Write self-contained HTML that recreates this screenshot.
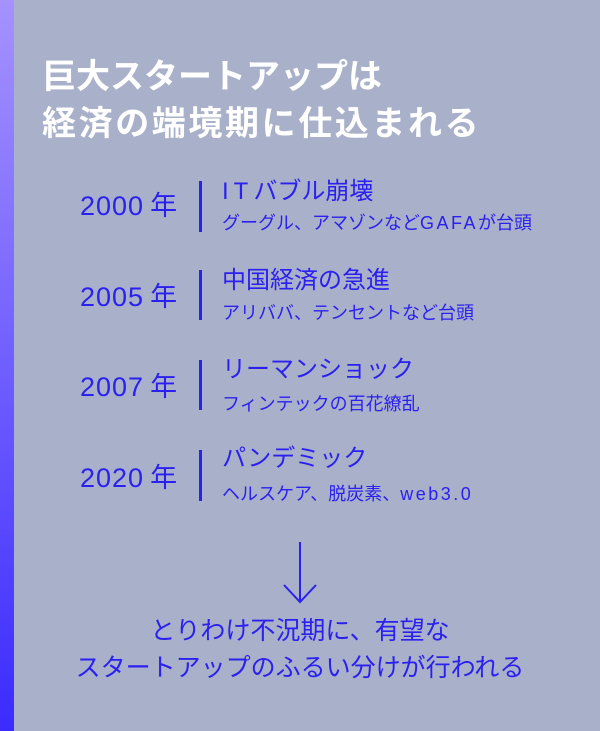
<!DOCTYPE html>
<html><head><meta charset="utf-8"><style>
body{margin:0;width:600px;height:731px;overflow:hidden;background:#a9b0c9;position:relative;font-family:"Liberation Sans","Noto Sans CJK JP",sans-serif;}
.strip{position:absolute;left:0;top:0;width:14px;height:731px;background:linear-gradient(#a592ff,#3b2bff);}
.t{position:absolute;left:42px;color:#fff;font-weight:bold;font-size:34px;white-space:nowrap;line-height:1;}
.b{color:#2b20f0;position:absolute;white-space:nowrap;line-height:1;}
.yr{font-size:27px;left:80px;letter-spacing:1px;}
.yr span{margin-left:6px;}
.bar{position:absolute;left:199px;width:3px;background:#2b20f0;}
.h{font-size:24px;left:222px;}
.s{font-size:18px;left:222px;}
.l{letter-spacing:2.5px;}
.c{font-size:25px;left:0;width:600px;text-align:center;}
</style></head><body>
<div class="strip"></div>
<div class="t" style="top:60px">巨大スタートアップは</div>
<div class="t" style="top:107px;letter-spacing:2.6px">経済の端境期に仕込まれる</div>

<div class="b yr" style="top:193px">2000<span>年</span></div>
<div class="bar" style="top:181px;height:51px"></div>
<div class="b h" style="top:180px"><span style="letter-spacing:5px">IT</span>バブル崩壊</div>
<div class="b s" style="top:214px">グーグル、アマゾンなど<span class="l">GAFA</span>が台頭</div>

<div class="b yr" style="top:284px">2005<span>年</span></div>
<div class="bar" style="top:270px;height:50px"></div>
<div class="b h" style="top:269px">中国経済の急進</div>
<div class="b s" style="top:304px">アリババ、テンセントなど台頭</div>

<div class="b yr" style="top:374px">2007<span>年</span></div>
<div class="bar" style="top:360px;height:50px"></div>
<div class="b h" style="top:358px">リーマンショック</div>
<div class="b s" style="top:395px">フィンテックの百花繚乱</div>

<div class="b yr" style="top:465px">2020<span>年</span></div>
<div class="bar" style="top:450px;height:51px"></div>
<div class="b h" style="top:447px">パンデミック</div>
<div class="b s" style="top:485px">ヘルスケア、脱炭素、<span class="l">web3.0</span></div>

<svg style="position:absolute;left:280px;top:540px" width="40" height="66"><path d="M20 2V62M4 45L20 62L36 45" stroke="#2b20f0" stroke-width="2" fill="none"/></svg>

<div class="b c" style="top:619px">とりわけ不況期に、有望な</div>
<div class="b c" style="top:656px">スタートアップのふるい分けが行われる</div>
</body></html>
